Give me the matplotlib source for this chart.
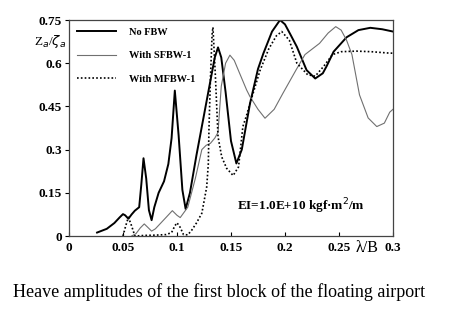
import matplotlib
matplotlib.use("Agg")
import matplotlib.pyplot as plt

# No FBW (thick solid)
x_no = [0.026, 0.035, 0.042, 0.047, 0.050, 0.052, 0.055, 0.058, 0.061, 0.065, 0.067, 0.069,
        0.0715, 0.074, 0.0765, 0.079, 0.083, 0.088, 0.092, 0.095, 0.098, 0.1015, 0.105, 0.108,
        0.112, 0.118, 0.124, 0.130, 0.135, 0.138, 0.141, 0.145, 0.150, 0.155, 0.160, 0.1676,
        0.175, 0.180, 0.188, 0.1954, 0.200, 0.205, 0.211, 0.220, 0.228, 0.235, 0.2386, 0.245,
        0.257, 0.268, 0.279, 0.290, 0.300]
y_no = [0.012, 0.025, 0.045, 0.065, 0.076, 0.072, 0.060, 0.075, 0.088, 0.100, 0.180, 0.270,
        0.200, 0.090, 0.055, 0.100, 0.150, 0.190, 0.250, 0.340, 0.505, 0.350, 0.160, 0.094,
        0.150, 0.280, 0.400, 0.520, 0.620, 0.655, 0.620, 0.500, 0.330, 0.252, 0.300, 0.460,
        0.580, 0.634, 0.710, 0.750, 0.735, 0.700, 0.657, 0.576, 0.547, 0.565, 0.590, 0.640,
        0.690, 0.715, 0.723, 0.718, 0.710]

# With SFBW-1 (thin grey)
x_sf = [0.058, 0.062, 0.066, 0.0697, 0.073, 0.0765, 0.080, 0.085, 0.090, 0.0957, 0.100, 0.103,
        0.110, 0.117, 0.123, 0.127, 0.131, 0.135, 0.138, 0.141, 0.145, 0.149, 0.153, 0.158,
        0.1645, 0.1676, 0.175, 0.1815, 0.190, 0.198, 0.210, 0.2185, 0.232, 0.240, 0.247, 0.252,
        0.257, 0.262, 0.269, 0.277, 0.285, 0.292, 0.297, 0.300]
y_sf = [0.000, 0.008, 0.028, 0.042, 0.030, 0.017, 0.025, 0.045, 0.065, 0.088, 0.072, 0.064,
        0.100, 0.200, 0.300, 0.315, 0.322, 0.340, 0.360, 0.520, 0.600, 0.628, 0.610, 0.565,
        0.507, 0.484, 0.440, 0.409, 0.440, 0.495, 0.575, 0.630, 0.669, 0.705, 0.727, 0.715,
        0.680, 0.630, 0.490, 0.410, 0.380, 0.392, 0.430, 0.440]

# With MFBW-1 (dotted)
x_mf = [0.050, 0.0525, 0.055, 0.058, 0.061, 0.070, 0.080, 0.090, 0.095, 0.098, 0.100, 0.103,
        0.106, 0.110, 0.1136, 0.118, 0.123, 0.1275, 0.129, 0.1296, 0.131, 0.1325, 0.1333,
        0.1355, 0.138, 0.1414, 0.146, 0.152, 0.157, 0.161, 0.1645, 0.1676, 0.177, 0.185,
        0.192, 0.197, 0.204, 0.211, 0.221, 0.228, 0.236, 0.244, 0.252, 0.266, 0.280, 0.297, 0.300]
y_mf = [0.000, 0.035, 0.065, 0.035, 0.000, 0.002, 0.003, 0.005, 0.012, 0.035, 0.046, 0.030,
        0.005, 0.004, 0.020, 0.045, 0.079, 0.170, 0.250, 0.370, 0.550, 0.700, 0.725,
        0.560, 0.345, 0.275, 0.235, 0.210, 0.240, 0.380, 0.420, 0.460, 0.576, 0.650,
        0.695, 0.710, 0.680, 0.600, 0.560, 0.555, 0.590, 0.630, 0.640, 0.642, 0.640, 0.635, 0.635]

x_ticks = [0, 0.05, 0.1, 0.15, 0.2, 0.25, 0.3]
x_labels = ["0", "0.05", "0.1", "0.15", "0.2", "0.25", "0.3"]
y_ticks = [0, 0.15, 0.3, 0.45, 0.6, 0.75]
y_labels = ["0", "0.15", "0.3", "0.45", "0.6", "0.75"]

plt.rcParams["font.family"] = ["Liberation Serif", "DejaVu Serif"]

fig = plt.figure(figsize=(4.5, 3.23), dpi=100)
ax = fig.add_axes([0.1533, 0.2693, 0.72, 0.6687])

ax.plot(x_no, y_no, color="black", lw=1.4, label="No FBW")
ax.plot(x_sf, y_sf, color="#707070", lw=0.8, label="With SFBW-1")
ax.plot(x_mf, y_mf, color="black", lw=1.2, ls=(0, (1, 1.3)), label="With MFBW-1")

ax.set_xlim(0, 0.3)
ax.set_ylim(0, 0.75)
ax.set_xticks(x_ticks)
ax.set_xticklabels(x_labels, fontsize=9.5, fontweight="bold")
ax.set_yticks(y_ticks)
ax.set_yticklabels(y_labels, fontsize=9.5, fontweight="bold")
ax.tick_params(axis="x", direction="in", length=3, width=0.8, pad=4)
ax.tick_params(axis="y", direction="out", length=3, width=0.8, pad=2)
for s in ax.spines.values():
    s.set_linewidth(0.9)
    s.set_color("#444444")

ax.legend(loc="upper left", frameon=False, handlelength=3.8, handletextpad=1.2,
          labelspacing=1.35, borderaxespad=0.35, prop={"size": 7.5, "weight": "bold"})

fig.text(0.075, 0.87, r"Z$_{a}$/$\zeta_{a}$", fontsize=9.5, ha="left", va="center")
ax.text(0.276, -0.04, "λ/B", fontsize=11.5, ha="center", va="center")
ax.text(0.215, 0.104, "EI=1.0E+10 kgf·m$^{2}$/m", fontsize=9.5, fontweight="bold",
        ha="center", va="center")

fig.text(0.487, 0.097, "Heave amplitudes of the first block of the floating airport",
         fontsize=13, ha="center", va="center")

fig.savefig("out.png", dpi=100)
